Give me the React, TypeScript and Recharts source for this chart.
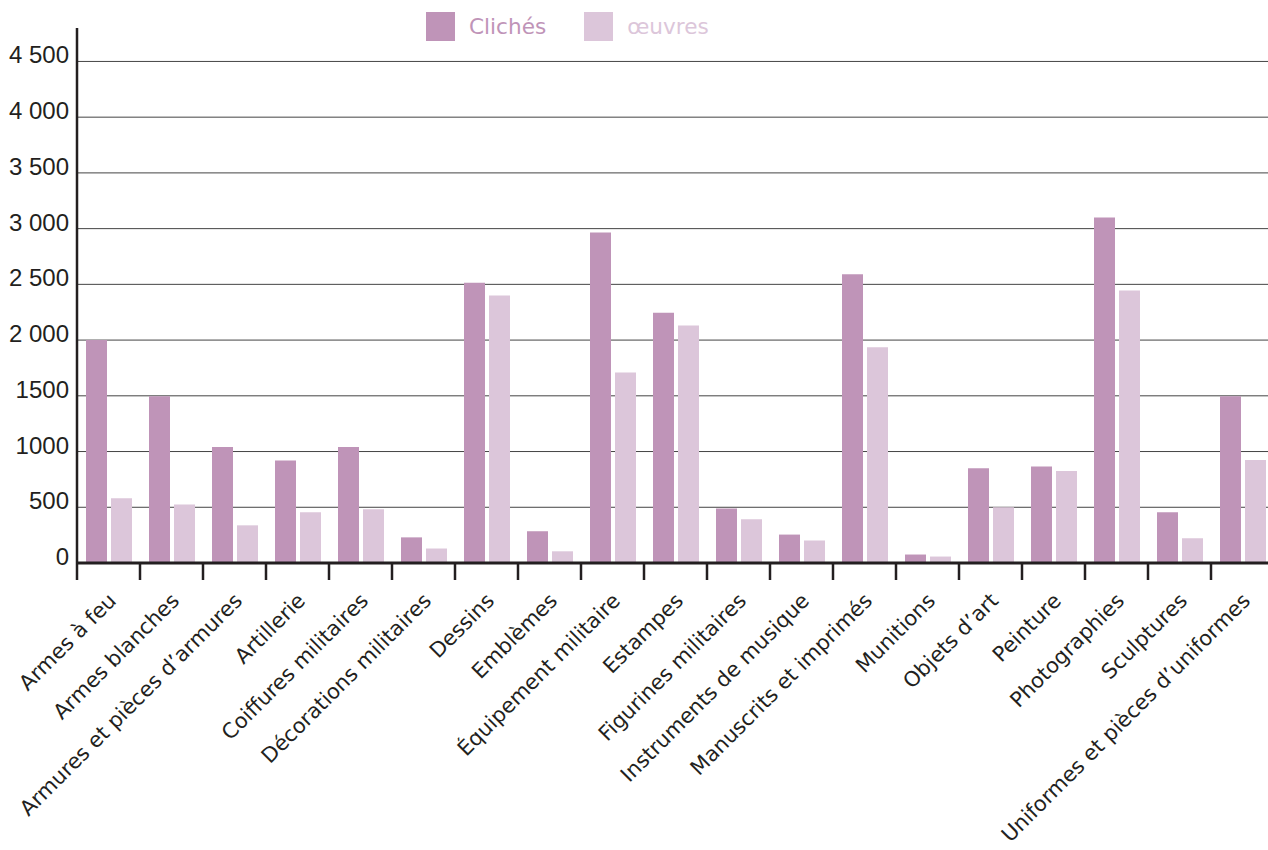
import React from 'react';
import { BarChart, Bar, XAxis, YAxis, CartesianGrid, Legend } from 'recharts';

const categories = [
  'Armes à feu',
  'Armes blanches',
  'Armures et pièces d’armures',
  'Artillerie',
  'Coiffures militaires',
  'Décorations militaires',
  'Dessins',
  'Emblèmes',
  'Équipement militaire',
  'Estampes',
  'Figurines militaires',
  'Instruments de musique',
  'Manuscrits et imprimés',
  'Munitions',
  'Objets d’art',
  'Peinture',
  'Photographies',
  'Sculptures',
  'Uniformes et pièces d’uniformes',
];

const clichesValues = [2000, 1495, 1040, 920, 1040, 230, 2515, 285, 2965, 2245, 490, 255, 2590, 76, 850, 865, 3100, 455, 1495];
const oeuvresValues = [580, 525, 338, 455, 482, 130, 2400, 105, 1710, 2130, 392, 202, 1935, 58, 500, 825, 2445, 222, 925];

const yTicks = [0, 500, 1000, 1500, 2000, 2500, 3000, 3500, 4000, 4500];
const yTickLabels = ['0', '500', '1000', '1500', '2 000', '2 500', '3 000', '3 500', '4 000', '4 500'];

const seriesNames = ['Clichés', 'œuvres'];
const seriesColors = ['#BF94B8', '#DCC6DA'];

const data = categories.map((name, i) => ({
  name,
  cliches: clichesValues[i],
  oeuvres: oeuvresValues[i],
}));

const LABEL_FONT = '"DejaVu Sans", sans-serif';
const TEXT_COLOR = '#231f20';

const XTick = (props: any) => {
  const { x, y, payload } = props;
  const half = payload && typeof payload.offset === 'number' && payload.offset > 0 ? payload.offset : 31.5;
  const bx = x - half;
  const tx = x + 9;
  const ty = y + 39;
  return (
    <g>
      <line x1={bx} x2={bx} y1={y} y2={y + 17} stroke={TEXT_COLOR} strokeWidth={2.5} />
      <text
        x={tx}
        y={ty}
        textAnchor="end"
        transform={`rotate(-45 ${tx} ${ty})`}
        fontFamily={LABEL_FONT}
        fontSize={21}
        fill={TEXT_COLOR}
      >
        {payload.value}
      </text>
    </g>
  );
};

const YTick = (props: any) => {
  const { x, y, payload } = props;
  const idx = yTicks.indexOf(payload.value);
  const label = idx >= 0 ? yTickLabels[idx] : String(payload.value);
  return (
    <text
      x={x - 8}
      y={y + 2}
      textAnchor="end"
      fontFamily='"Liberation Sans", Arial, sans-serif'
      fontSize={24}
      fill={TEXT_COLOR}
    >
      {label}
    </text>
  );
};

const renderLegend = (props: any) => {
  const { payload } = props;
  return (
    <div style={{ display: 'flex', alignItems: 'center' }}>
      {(payload || []).map((entry: any, i: number) => (
        <div key={i} style={{ display: 'flex', alignItems: 'center', marginRight: i === 0 ? 38 : 0 }}>
          <div style={{ width: 29, height: 29, background: entry.color, marginRight: 14 }} />
          <span style={{ fontFamily: LABEL_FONT, fontSize: 21.6, color: entry.color, lineHeight: '29px' }}>
            {entry.value}
          </span>
        </div>
      ))}
    </div>
  );
};

export default function App() {
  return (
    <div
      style={{
        position: 'absolute',
        left: 0,
        top: 0,
        width: 1268,
        height: 850,
        overflow: 'hidden',
        background: '#ffffff',
      }}
    >
      <BarChart
        width={1290}
        height={850}
        data={data}
        margin={{ top: 28, right: 16, left: 0, bottom: 0 }}
        barGap={4}
        barSize={21}
      >
        <CartesianGrid
          horizontal={true}
          vertical={false}
          stroke="#444444"
          strokeWidth={1}
          horizontalValues={yTicks.filter((v) => v > 0)}
        />
        <XAxis
          dataKey="name"
          type="category"
          interval={0}
          height={287}
          tickLine={false}
          tickSize={0}
          tickMargin={0}
          axisLine={{ stroke: TEXT_COLOR, strokeWidth: 3 }}
          tick={<XTick />}
        />
        <YAxis
          type="number"
          domain={[0, 4800]}
          ticks={yTicks}
          width={77}
          tickLine={false}
          tickSize={0}
          tickMargin={0}
          axisLine={{ stroke: TEXT_COLOR, strokeWidth: 2.5 }}
          tick={<YTick />}
          interval={0}
        />
        <Legend
          layout="horizontal"
          verticalAlign="middle"
          align="center"
          content={renderLegend}
          wrapperStyle={{ top: 12, left: 426, width: 'auto', height: 29 }}
        />
        <Bar dataKey="cliches" name={seriesNames[0]} fill={seriesColors[0]} isAnimationActive={false} />
        <Bar dataKey="oeuvres" name={seriesNames[1]} fill={seriesColors[1]} isAnimationActive={false} />
      </BarChart>
    </div>
  );
}
